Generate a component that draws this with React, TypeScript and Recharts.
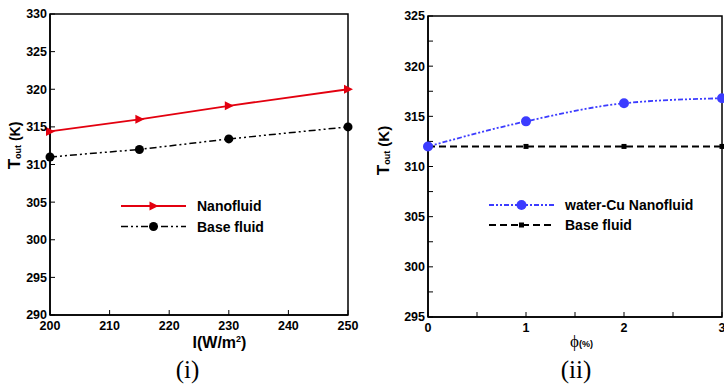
import React from "react";
import { LineChart, Line, XAxis, YAxis, ReferenceArea, Legend, Label } from "recharts";

// (i) outlet temperature vs solar irradiance
const irradiance = [200, 215, 230, 250];
const nanoByI = [314.4, 316.0, 317.8, 320.0];
const baseByI = [311.0, 312.0, 313.4, 315.0];

// (ii) outlet temperature vs volume fraction
const phi = [0, 1, 2, 3];
const cuNanoByPhi = [312.0, 314.5, 316.3, 316.8];
const baseByPhi = [312.0, 312.0, 312.0, 312.0];

const iTicks = [200, 210, 220, 230, 240, 250];
const tTicksLeft = [290, 295, 300, 305, 310, 315, 320, 325, 330];
const phiTicks = [0, 0.5, 1, 1.5, 2, 2.5, 3];
const tTicksRight = [295, 297.5, 300, 302.5, 305, 307.5, 310, 312.5, 315, 317.5, 320, 322.5, 325];

const leftData = irradiance.map((I, i) => ({ I, nano: nanoByI[i], base: baseByI[i] }));
const rightData = phi.map((p, i) => ({ phi: p, nano: cuNanoByPhi[i], base: baseByPhi[i] }));

const SANS = "'Liberation Sans', Arial, sans-serif";
const SERIF = "'Liberation Serif', 'DejaVu Serif', serif";
const RED = "#e3000f";
const BLUE = "#3c3cff";

const tickStyle = { fill: "#000", fontSize: 12.5, fontWeight: 700, fontFamily: SANS };
const axisStroke = { stroke: "#000", strokeWidth: 1.5 };
const tickStroke = { stroke: "#000", strokeWidth: 1 };

// markers, shared by lines and legends
const triangle = (x: number, y: number, key?: string) => (
  <path key={key} d={`M${x - 4},${y - 4.5} L${x + 5},${y} L${x - 4},${y + 4.5} Z`} fill={RED} />
);
const blackDot = (x: number, y: number, key?: string) => <circle key={key} cx={x} cy={y} r={4.5} fill="#000" />;
const blueDot = (x: number, y: number, key?: string) => <circle key={key} cx={x} cy={y} r={5} fill={BLUE} />;
const square = (x: number, y: number, key?: string) => (
  <rect key={key} x={x - 2.5} y={y - 2.5} width={5} height={5} fill="#000" />
);

type Row = { name: string; color: string; width: number; dash?: string; marker: (x: number, y: number) => any };

const leftRows: Row[] = [
  { name: "Nanofluid", color: RED, width: 1.8, marker: triangle },
  { name: "Base fluid", color: "#000", width: 1.5, dash: "7 3 2 3 2 3", marker: blackDot },
];
const rightRows: Row[] = [
  { name: "water-Cu Nanofluid", color: BLUE, width: 1.8, dash: "5 2 2 2 2 2", marker: blueDot },
  { name: "Base fluid", color: "#000", width: 2, dash: "7 4", marker: square },
];

const LegendBox = ({ rows, gap }: { rows: Row[]; gap: number }) => (
  <svg width={220} height={46} style={{ display: "block", overflow: "visible" }}>
    {rows.map((r, i) => {
      const y = 8 + i * gap;
      return (
        <g key={r.name}>
          <line x1={0} x2={65} y1={y} y2={y} stroke={r.color} strokeWidth={r.width} strokeDasharray={r.dash} />
          {r.marker(32.5, y)}
          <text x={76} y={y} dy="0.36em" fontSize={14} fontWeight={700} fontFamily={SANS} fill="#000">
            {r.name}
          </text>
        </g>
      );
    })}
  </svg>
);

// rotated "T_out (K)", (cx, cy) is on the baseline
const yTitle = (cx: number, cy: number, kSize: number) => () => (
  <text
    x={cx}
    y={cy}
    transform={`rotate(-90 ${cx} ${cy})`}
    textAnchor="middle"
    fontFamily={SANS}
    fontWeight={700}
    fill="#000"
  >
    <tspan fontSize={17}>T</tspan>
    <tspan fontSize={9} dy={1}>out</tspan>
    <tspan fontSize={kSize} dy={-1}> (K)</tspan>
  </text>
);

const leftXTitle = () => (
  <g>
    <text x={219.5} y={348} textAnchor="middle" fontFamily={SANS} fontWeight={700} fontSize={16} fill="#000">
      I(W/m<tspan fontSize={9} dy={-6}>2</tspan>
      <tspan dy={6}>)</tspan>
    </text>
    <text x={187.5} y={378} textAnchor="middle" fontFamily={SERIF} fontSize={25} fill="#000">
      (i)
    </text>
  </g>
);

const rightXTitle = () => (
  <g>
    <text x={208} y={347} fontFamily={SERIF} fontSize={17} fill="#000">
      ϕ<tspan fontFamily={SANS} fontWeight={700} fontSize={9}>(%)</tspan>
    </text>
    <text x={214} y={378} textAnchor="middle" fontFamily={SERIF} fontSize={25} fill="#000">
      (ii)
    </text>
  </g>
);

export default function App() {
  return (
    <div style={{ position: "absolute", left: 0, top: 0, width: 724, height: 385, background: "#fff" }}>
      <div style={{ position: "absolute", left: 0, top: 0 }}>
        <LineChart width={362} height={385} data={leftData} margin={{ top: 14, right: 14, bottom: 0, left: 0 }}>
          <XAxis
            dataKey="I"
            type="number"
            domain={[200, 250]}
            ticks={iTicks}
            interval={0}
            height={70}
            tick={tickStyle}
            axisLine={axisStroke}
            tickLine={tickStroke}
            tickSize={-5}
            tickMargin={11}
          >
            <Label content={leftXTitle} />
          </XAxis>
          <YAxis
            type="number"
            domain={[290, 330]}
            ticks={tTicksLeft}
            interval={0}
            width={50}
            tick={tickStyle}
            axisLine={axisStroke}
            tickLine={tickStroke}
            tickSize={-5}
            tickMargin={8}
          >
            <Label content={yTitle(19.5, 145.5, 14)} />
          </YAxis>
          <ReferenceArea x1={200} x2={250} y1={290} y2={330} fill="none" fillOpacity={0} stroke="#000" strokeWidth={1.5} />
          <Line
            dataKey="nano"
            stroke={RED}
            strokeWidth={1.8}
            dot={(p: any) => triangle(p.cx, p.cy, `n${p.index}`)}
            isAnimationActive={false}
          />
          <Line
            dataKey="base"
            stroke="#000"
            strokeWidth={1.5}
            strokeDasharray="7 3 2 3 2 3"
            dot={(p: any) => blackDot(p.cx, p.cy, `b${p.index}`)}
            isAnimationActive={false}
          />
          <Legend
            layout="horizontal"
            verticalAlign="middle"
            align="center"
            wrapperStyle={{ left: 121, top: 197.5, width: 220 }}
            content={() => <LegendBox rows={leftRows} gap={20.5} />}
          />
        </LineChart>
      </div>

      <div style={{ position: "absolute", left: 362, top: 0 }}>
        <LineChart width={362} height={385} data={rightData} margin={{ top: 16, right: 2, bottom: 0, left: 0 }}>
          <XAxis
            dataKey="phi"
            type="number"
            domain={[0, 3]}
            ticks={phiTicks}
            interval={0}
            height={68}
            tick={tickStyle}
            tickFormatter={(v: number) => (Number.isInteger(v) ? String(v) : "")}
            axisLine={axisStroke}
            tickLine={tickStroke}
            tickSize={-5}
            tickMargin={11}
          >
            <Label content={rightXTitle} />
          </XAxis>
          <YAxis
            type="number"
            domain={[295, 325]}
            ticks={tTicksRight}
            interval={0}
            width={66}
            tick={tickStyle}
            tickFormatter={(v: number) => (v % 5 === 0 ? String(v) : "")}
            axisLine={axisStroke}
            tickLine={tickStroke}
            tickSize={-5}
            tickMargin={8}
          >
            <Label content={yTitle(27, 150.5, 15)} />
          </YAxis>
          <ReferenceArea x1={0} x2={3} y1={295} y2={325} fill="none" fillOpacity={0} stroke="#000" strokeWidth={1.5} />
          <Line
            dataKey="base"
            stroke="#000"
            strokeWidth={2}
            strokeDasharray="7 4"
            dot={(p: any) => square(p.cx, p.cy, `s${p.index}`)}
            isAnimationActive={false}
          />
          <Line
            type="monotone"
            dataKey="nano"
            stroke={BLUE}
            strokeWidth={1.8}
            strokeDasharray="5 2 2 2 2 2"
            dot={(p: any) => blueDot(p.cx, p.cy, `c${p.index}`)}
            isAnimationActive={false}
          />
          <Legend
            layout="horizontal"
            verticalAlign="middle"
            align="center"
            wrapperStyle={{ left: 127, top: 197, width: 220 }}
            content={() => <LegendBox rows={rightRows} gap={20} />}
          />
        </LineChart>
      </div>
    </div>
  );
}
